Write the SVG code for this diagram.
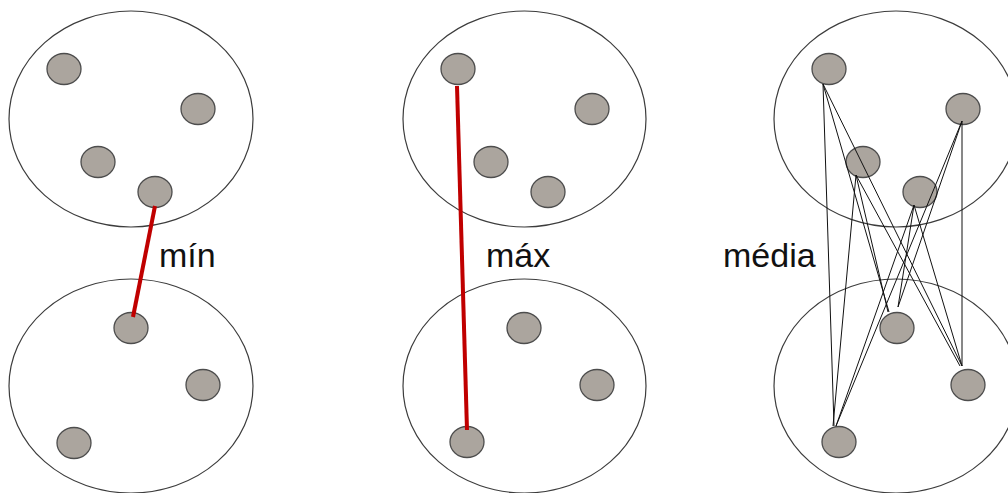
<svg xmlns="http://www.w3.org/2000/svg" width="1008" height="493" viewBox="0 0 1008 493">
<style>
.cl{fill:none;stroke:#3c3c3c;stroke-width:1.2}
.pt{fill:#aba59e;stroke:#4d4d4d;stroke-width:1.3}
.red{stroke:#c00000;stroke-width:4;stroke-linecap:butt}
.thin{stroke:#111;stroke-width:1}
.lbl{font-family:"Liberation Sans",Arial,sans-serif;font-size:34px;fill:#111}
</style>
<rect width="1008" height="493" fill="#fff"/>
<g id="min-panel">
  <ellipse class="cl" cx="131" cy="119" rx="122" ry="108"/>
  <ellipse class="cl" cx="131" cy="386" rx="122" ry="107"/>
  <ellipse class="pt" cx="64" cy="69" rx="17" ry="15.5"/>
  <ellipse class="pt" cx="198" cy="109" rx="17" ry="15.5"/>
  <ellipse class="pt" cx="98" cy="162" rx="17" ry="15.5"/>
  <ellipse class="pt" cx="155" cy="192" rx="17" ry="15.5"/>
  <ellipse class="pt" cx="131" cy="328" rx="17" ry="15.5"/>
  <ellipse class="pt" cx="203" cy="385" rx="17" ry="15.5"/>
  <ellipse class="pt" cx="74" cy="443" rx="17" ry="15.5"/>
  <text class="lbl" x="159" y="267">mín</text>
</g>
<g id="max-panel">
  <ellipse class="cl" cx="524.5" cy="119" rx="121.5" ry="108"/>
  <ellipse class="cl" cx="524.5" cy="386" rx="121.5" ry="107"/>
  <ellipse class="pt" cx="458" cy="69" rx="17" ry="15.5"/>
  <ellipse class="pt" cx="592" cy="109" rx="17" ry="15.5"/>
  <ellipse class="pt" cx="491" cy="162" rx="17" ry="15.5"/>
  <ellipse class="pt" cx="548" cy="192" rx="17" ry="15.5"/>
  <ellipse class="pt" cx="524" cy="328" rx="17" ry="15.5"/>
  <ellipse class="pt" cx="597" cy="385" rx="17" ry="15.5"/>
  <ellipse class="pt" cx="467" cy="442" rx="17" ry="15.5"/>
  <text class="lbl" x="486" y="267">máx</text>
</g>
<g id="media-panel">
  <ellipse class="cl" cx="896" cy="119" rx="122" ry="108"/>
  <ellipse class="cl" cx="896" cy="386" rx="122" ry="107"/>
  <ellipse class="pt" cx="829" cy="69" rx="17" ry="15.5"/>
  <ellipse class="pt" cx="963" cy="109" rx="17" ry="15.5"/>
  <ellipse class="pt" cx="863" cy="162" rx="17" ry="15.5"/>
  <ellipse class="pt" cx="920" cy="192" rx="17" ry="15.5"/>
  <ellipse class="pt" cx="897" cy="328" rx="17" ry="15.5"/>
  <ellipse class="pt" cx="968" cy="385" rx="17" ry="15.5"/>
  <ellipse class="pt" cx="839" cy="442" rx="17" ry="15.5"/>
  <text class="lbl" x="723" y="267">média</text>
</g>
<g id="connectors">
  <line class="red" x1="155" y1="206" x2="133" y2="317"/>
  <line class="red" x1="457" y1="86" x2="467" y2="430"/>
  <g class="thin">
    <line x1="823" y1="84" x2="889" y2="312"/>
    <line x1="823" y1="84" x2="962" y2="366"/>
    <line x1="823" y1="84" x2="834" y2="426"/>
    <line x1="962" y1="121" x2="898" y2="307"/>
    <line x1="962" y1="121" x2="962" y2="366"/>
    <line x1="962" y1="121" x2="836" y2="426"/>
    <line x1="856" y1="175" x2="888" y2="312"/>
    <line x1="856" y1="175" x2="960" y2="366"/>
    <line x1="856" y1="175" x2="833" y2="426"/>
    <line x1="914" y1="205" x2="898" y2="307"/>
    <line x1="914" y1="205" x2="962" y2="366"/>
    <line x1="914" y1="205" x2="836" y2="426"/>
  </g>
</g>
</svg>
